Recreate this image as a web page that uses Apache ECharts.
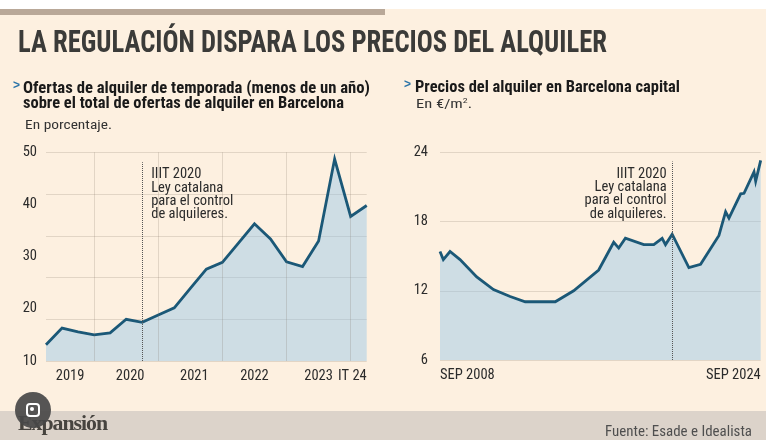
<!DOCTYPE html>
<html>
<head>
<meta charset="utf-8">
<script src="https://cdn.jsdelivr.net/npm/echarts@6/dist/echarts.min.js"></script>
<style>
  html, body { margin: 0; padding: 0; background: #fff; }
  #wrap { position: relative; width: 770px; height: 448px; overflow: hidden; background: #fff; }
  .abs { position: absolute; white-space: nowrap; }
  .narrow { font-family: "Liberation Sans Narrow", "Roboto Condensed", "DejaVu Sans Condensed", "Liberation Sans", sans-serif; }
  .fit { display: inline-block; transform-origin: 0 0; }
</style>
</head>
<body>
<div id="wrap">
  <!-- fondo -->
  <div class="abs" style="left:0;top:9px;width:766px;height:402px;background:#fdf0e0;"></div>
  <div class="abs" style="left:0;top:9px;width:385px;height:6px;background:#b9a898;"></div>
  <div class="abs" style="left:0;top:411px;width:766px;height:29px;background:#dcd3ca;"></div>

  <div id="chart" class="abs" style="left:0;top:0;width:770px;height:448px;"></div>

  <!-- textos -->
  <div class="abs narrow fit" data-w="589" style="left:18px;top:26px;font-size:31px;line-height:31px;font-weight:bold;color:#3b3b39;">LA REGULACIÓN DISPARA LOS PRECIOS DEL ALQUILER</div>

  <div class="abs" style="left:13px;top:78px;font:bold 12px 'Liberation Sans',sans-serif;color:#2b74a8;">&gt;</div>
  <div class="abs narrow fit" data-w="347" style="left:23px;top:80px;font-size:16px;line-height:15px;font-weight:bold;color:#1a1a1a;">Ofertas de alquiler de temporada (menos de un año)</div>
  <div class="abs narrow fit" data-w="321" style="left:23px;top:94.5px;font-size:16px;line-height:15px;font-weight:bold;color:#1a1a1a;">sobre el total de ofertas de alquiler en Barcelona</div>
  <div class="abs narrow fit" data-w="87" style="left:25px;top:117px;font-size:13.5px;line-height:14px;color:#333;">En porcentaje.</div>

  <div class="abs" style="left:404px;top:77px;font:bold 12px 'Liberation Sans',sans-serif;color:#2b74a8;">&gt;</div>
  <div class="abs narrow fit" data-w="265" style="left:415px;top:78.5px;font-size:16px;line-height:15px;font-weight:bold;color:#1a1a1a;">Precios del alquiler en Barcelona capital</div>
  <div class="abs narrow fit" data-w="56" style="left:416px;top:95.5px;font-size:13.5px;line-height:14px;color:#333;">En €/m<sup style="font-size:8px;line-height:0;">2</sup>.</div>

  <div class="abs fit" data-w="89" style="left:18px;top:413px;font:bold 21px/21px 'Liberation Serif','DejaVu Serif',serif;letter-spacing:-1px;color:#47443f;">Expansión</div>
  <div class="abs narrow fit" data-w="147" style="left:605px;top:423.5px;font-size:15px;line-height:15px;color:#4f4f4f;">Fuente: Esade e Idealista</div>

  <!-- botón superpuesto de la captura -->
  <div class="abs" style="left:15px;top:392px;width:36px;height:36px;border-radius:18px;background:rgba(72,72,72,0.92);"></div>
  <div class="abs" style="left:26px;top:403px;width:10px;height:10px;border:2px solid #fff;border-radius:4px;"></div>
  <div class="abs" style="left:30px;top:407px;width:4px;height:4px;border-radius:2px;background:#fff;"></div>
</div>

<script>
// ============================================================
// Datos
// ============================================================

// Ofertas de temporada sobre el total (%), trimestral I 2019 .. I 2024
var shareQuarters = [
  'I 2019', 'II 2019', 'III 2019', 'IV 2019',
  'I 2020', 'II 2020', 'III 2020', 'IV 2020',
  'I 2021', 'II 2021', 'III 2021', 'IV 2021',
  'I 2022', 'II 2022', 'III 2022', 'IV 2022',
  'I 2023', 'II 2023', 'III 2023', 'IV 2023',
  'I 2024'
];
var seasonalShare = [
  13.1, 16.3, 15.6, 15.0,
  15.4, 18.0, 17.4, 18.8,
  20.2, 23.9, 27.6, 28.9,
  32.6, 36.3, 33.4, 29.0,
  28.1, 33.0, 48.7, 37.7,
  39.8
];
var shareTickPos = [1.5, 5.25, 9.25, 13, 17, 20];
var shareTickLabels = ['2019', '2020', '2021', '2022', '2023', 'IT 24'];
var shareYearBreaks = [3, 7, 11, 15, 19];
var shareLawQuarter = 6;

// Precio del alquiler en Barcelona (€/m²), meses desde sep 2008
var rentMonth = [
  0, 2, 6, 12, 22, 32, 42, 51, 69, 80,
  95, 104, 107, 111, 122, 128, 133, 135, 139, 149,
  156, 167, 171, 173, 180, 182, 188, 189, 192
];
var rentPrice = [
  15.4, 14.7, 15.4, 14.7, 13.2, 12.1, 11.5, 11.05, 11.05, 12.0,
  13.8, 16.2, 15.7, 16.55, 16.0, 16.0, 16.55, 16.0, 16.9, 14.0,
  14.3, 16.8, 18.85, 18.3, 20.4, 20.45, 22.3, 21.5, 23.3
];
var rentTickPos = [0, 192];
var rentTickLabels = ['SEP 2008', 'SEP 2024'];
var rentLawMonth = 139;

var lawNote = 'IIIT 2020\nLey catalana\npara el control\nde alquileres.';

// ============================================================
// Estilos
// ============================================================

var NARROW = '"Liberation Sans Narrow", "Roboto Condensed", "DejaVu Sans Condensed", "Liberation Sans", sans-serif';
var LINE_COLOR = '#1b5877';
var AREA_COLOR = 'rgba(149,198,233,0.45)';
var GRID_COLOR = 'rgba(120,105,90,0.2)';
var TEXT_COLOR = '#2b2b2b';

function pickLabel(positions, labels) {
  return function (value) {
    for (var i = 0; i < positions.length; i++) {
      if (Math.abs(positions[i] - value) < 1e-6) return labels[i];
    }
    return '';
  };
}

function fitTexts() {
  var nodes = document.querySelectorAll('.fit');
  for (var i = 0; i < nodes.length; i++) {
    var el = nodes[i];
    var target = Number(el.getAttribute('data-w'));
    var w = el.getBoundingClientRect().width;
    if (target && w) el.style.transform = 'scaleX(' + (target / w) + ')';
  }
}

function noteLabel(align, dx) {
  return {
    show: true,
    formatter: lawNote,
    position: [dx, 6.5],
    align: align,
    verticalAlign: 'top',
    fontFamily: NARROW,
    fontSize: 14.5,
    lineHeight: 13.3,
    color: TEXT_COLOR
  };
}

// ============================================================
// Gráfico
// ============================================================

function renderChart() {
  var chart = echarts.init(document.getElementById('chart'), null, { renderer: 'canvas' });

  var axisText = { fontFamily: NARROW, fontSize: 14.5, color: TEXT_COLOR };

  chart.setOption({
    animation: false,
    grid: [
      { left: 46, top: 152.3, width: 320.7, height: 208.7 },
      { left: 440, top: 152.3, width: 320.7, height: 207.7 }
    ],
    xAxis: [
      {
        gridIndex: 0, type: 'value', min: 0, max: 20, interval: 0.25,
        axisLine: { show: false }, axisTick: { show: false }, splitLine: { show: false },
        axisLabel: Object.assign({ margin: 8, formatter: pickLabel(shareTickPos, shareTickLabels), alignMaxLabel: 'right' }, axisText)
      },
      {
        gridIndex: 1, type: 'value', min: 0, max: 192, interval: 192,
        axisLine: { show: false }, axisTick: { show: false }, splitLine: { show: false },
        axisLabel: Object.assign({ margin: 8, formatter: pickLabel(rentTickPos, rentTickLabels), alignMinLabel: 'left', alignMaxLabel: 'right' }, axisText)
      }
    ],
    yAxis: [
      {
        gridIndex: 0, type: 'value', min: 10, max: 50, interval: 10,
        axisLine: { show: false }, axisTick: { show: false }, splitLine: { show: false },
        axisLabel: Object.assign({ margin: 9 }, axisText)
      },
      {
        gridIndex: 0, type: 'value', min: 10, max: 50, interval: 8,
        axisLine: { show: false }, axisTick: { show: false }, axisLabel: { show: false },
        splitLine: { show: true, lineStyle: { color: GRID_COLOR, width: 1 } }
      },
      {
        gridIndex: 1, type: 'value', min: 6, max: 24, interval: 6,
        axisLine: { show: false }, axisTick: { show: false },
        splitLine: { show: true, lineStyle: { color: GRID_COLOR, width: 1 } },
        axisLabel: Object.assign({ margin: 12 }, axisText)
      }
    ],
    series: [
      {
        name: 'Ofertas de temporada',
        type: 'line',
        xAxisIndex: 0,
        yAxisIndex: 0,
        data: seasonalShare.map(function (v, i) { return [i, v]; }),
        symbol: 'none',
        lineStyle: { color: LINE_COLOR, width: 2.8, join: 'miter' },
        areaStyle: { color: AREA_COLOR, opacity: 1, origin: 'start' },
        markLine: {
          silent: true,
          symbol: ['none', 'none'],
          label: { show: false },
          data: shareYearBreaks.map(function (q) {
            return { xAxis: q, lineStyle: { color: GRID_COLOR, width: 1, type: 'solid' } };
          }).concat([[
            { coord: [shareLawQuarter, 10], lineStyle: { color: '#555', width: 1, type: 'dotted' } },
            { coord: [shareLawQuarter, 48.1] }
          ]])
        },
        markPoint: {
          silent: true,
          data: [{
            coord: [shareLawQuarter, 48.1],
            symbol: 'circle',
            symbolSize: 1,
            itemStyle: { color: 'rgba(0,0,0,0)' },
            label: noteLabel('left', 9.5)
          }]
        }
      },
      {
        name: 'Precio alquiler',
        type: 'line',
        xAxisIndex: 1,
        yAxisIndex: 2,
        data: rentMonth.map(function (m, i) { return [m, rentPrice[i]]; }),
        symbol: 'none',
        lineStyle: { color: LINE_COLOR, width: 2.8, join: 'miter' },
        areaStyle: { color: AREA_COLOR, opacity: 1, origin: 'start' },
        markLine: {
          silent: true,
          symbol: ['none', 'none'],
          label: { show: false },
          data: [[
            { coord: [rentLawMonth, 6], lineStyle: { color: '#555', width: 1, type: 'dotted' } },
            { coord: [rentLawMonth, 23.2] }
          ]]
        },
        markPoint: {
          silent: true,
          data: [{
            coord: [rentLawMonth, 23.2],
            symbol: 'circle',
            symbolSize: 1,
            itemStyle: { color: 'rgba(0,0,0,0)' },
            label: noteLabel('right', -5)
          }]
        }
      }
    ]
  });
}

fitTexts();
renderChart();
</script>
</body>
</html>
